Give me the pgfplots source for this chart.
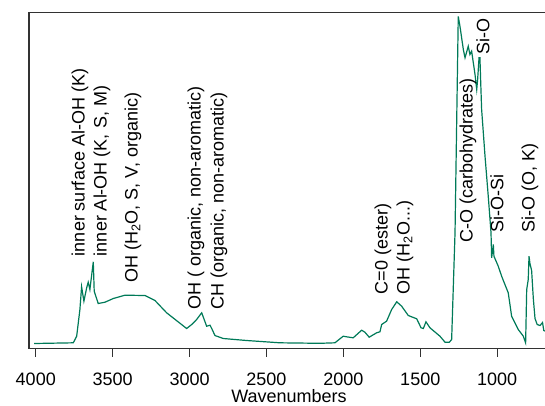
\documentclass[border=0pt]{standalone}
\usepackage{pgfplots}
\pgfplotsset{compat=1.18}
\usepackage{fontspec}
\setmainfont{Liberation Sans}
\definecolor{spec}{RGB}{0,122,88}
\definecolor{frame}{RGB}{50,50,50}
\newcommand{\lf}{\fontsize{18}{21}\selectfont}
\begin{document}
\begin{tikzpicture}
\useasboundingbox (-29pt,-56.5pt) rectangle (516pt,348.5pt);
\begin{axis}[
  at={(0,0)}, anchor=south west,
  scale only axis, width=520pt, height=335.8pt,
  x dir=reverse, xmin=663, xmax=4044, ymin=0, ymax=335.8,
  xtick={1000,1500,...,4000}, ytick=\empty,
  tick align=outside, xtick pos=bottom, major tick length=8pt,
  every tick/.style={frame, line width=1.2pt},
  axis line style={frame, line width=1.4pt},
  /pgf/number format/assume math mode=true,
  /pgf/number format/1000 sep={},
  xticklabel style={font=\lf, text=black, yshift=-13pt},
  xlabel={Wavenumbers}, xlabel style={font=\lf, text=black, inner sep=0pt, yshift=-0.5pt},
  clip=true,
]
\addplot[spec, line width=1.2pt] coordinates {
(4010,5) (3756,5.7) (3734,12.3) (3713,39) (3702,61.7) (3687,47.3) (3669,60.7)
(3659,66.3) (3648,59) (3626,86.7) (3620,57.3) (3594,45) (3550,46.3) (3496,50)
(3420,53.3) (3290,53) (3225,48) (3149,35.7) (3019,20) (2986,24) (2954,29)
(2921,35.7) (2889,22.3) (2867,23.3) (2856,20) (2835,13) (2781,10) (2629,8)
(2412,5.7) (2152,5.2) (2055,5.7) (2001,12.3) (1979,11.7) (1936,10.7) (1881,18.3)
(1860,16.3) (1832,11.3) (1784,15.7) (1762,16.7) (1751,24) (1719,27.3) (1686,39)
(1653,46.7) (1621,42.3) (1578,33) (1523,29.7) (1495,20.7) (1480,20) (1463,26.7)
(1437,20.7) (1372,12.3) (1339,6.3) (1311,6.3) (1296,9) (1274,116) (1253,332)
(1242,322.3) (1220,299) (1209,290.7) (1188,302.3) (1177,294) (1166,297.3)
(1144,274) (1133,259) (1127,269) (1118,290.7) (1112,290.7) (1107,266) (1101,239)
(1079,192.3) (1058,152.3) (1040,115.7) (1036,90.7) (1025,104) (1021,92.3)
(993,82.3) (971,72.3) (928,55.7) (906,32.3) (863,19) (830,12.3) (815,5.7)
(808,59) (798,69) (793,92.3) (787,85) (776,78) (765,50) (754,30) (740,24)
(721,23) (705,26) (697,18) (665,16)
};
\begin{scope}[every node/.style={rotate=90, anchor=west, inner sep=0pt, font=\lf, text=black}]
\node at (axis cs:3713,92.3) {inner surface Al-OH (K)};
\node at (axis cs:3570,92.3) {inner Al-OH (K, S, M)};
\node at (axis cs:3368,65.7) {OH (H\textsubscript{2}O, S, V, organic)};
\node at (axis cs:2958,39) {OH ( organic, non-aromatic)};
\node at (axis cs:2809,39) {CH (organic, non-aromatic)};
\node at (axis cs:1743,54) {C=0 (ester)};
\node at (axis cs:1600,54) {OH (H\textsubscript{2}O...)};
\node at (axis cs:1190,105.7) {C-O (carbohydrates)};
\node at (axis cs:1093,294) {Si-O};
\node at (axis cs:1002,115.7) {Si-O-Si};
\node at (axis cs:787,115.7) {Si-O (O, K)};
\end{scope}
\end{axis}
\end{tikzpicture}
\end{document}
